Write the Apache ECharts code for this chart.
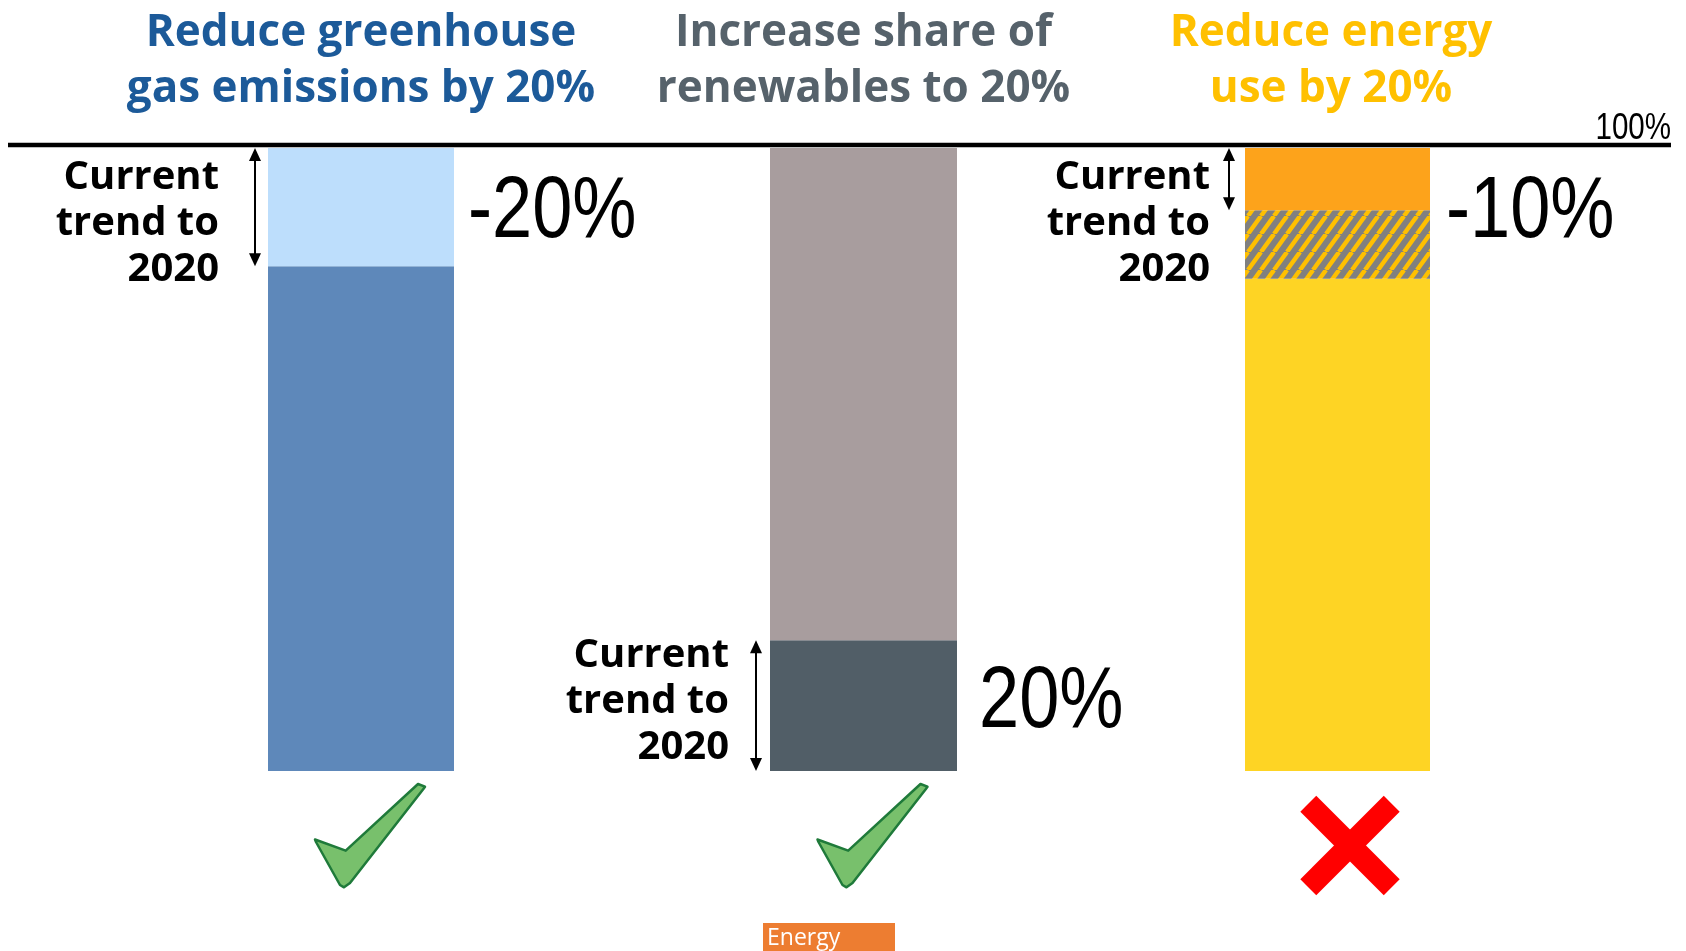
<!DOCTYPE html>
<html><head><meta charset="utf-8">
<script src="https://cdn.jsdelivr.net/npm/echarts@6/dist/echarts.min.js"></script>
<style>html,body{margin:0;padding:0;background:#fff}#chart{width:1686px;height:951px}</style>
</head><body><div id="chart"></div>
<script>
// ---------- data ----------
const goals = ['Reduce greenhouse\ngas emissions by 20%', 'Increase share of\nrenewables to 20%', 'Reduce energy\nuse by 20%'];
const ghgSegments = [81, 19];          // achieved, remaining to 100%
const renewablesSegments = [21, 79];   // current trend share, rest
const energySegments = [79, 11, 10];   // base, shortfall (hatched), achieved reduction
const markedSegment = [1, 0, 2];       // segment that carries the change label / arrow
const changeLabels = ['-20%', '20%', '-10%'];
const trendLabel = 'Current\ntrend to\n2020';
const scaleTopLabel = '100%';
const scaleTopValue = 100;
const outcomes = ['check', 'check', 'cross'];
const footerLabel = 'Energy';

// ---------- layout / style ----------
const gridLeft = [268, 770, 1245];
const gridWidth = [186, 187, 185];
const gridTop = 148, gridBottom = 180;
const titleColors = ['#1C5A99', '#56626B', '#FFC000'];
const titlePad = [[0,0,0,0],[0,0,0,0],[0,13,0,0]];
const labelGap = [14, 22, 16];
const labelDy = [6, -3, 34];
const arrowGap = [13, 14, 16];
const textGap = [49, 41, 35];
const textDy = [7, -8, 7];
const NARROW_SCALE = 0.82;
const SANS = '"Liberation Sans", Arial, sans-serif';
const HUMAN = '"Open Sans", "Noto Sans", sans-serif';

function makeHatch() {
  const w = 13, h = 18;
  const c = document.createElement('canvas');
  c.width = w; c.height = h;
  const g = c.getContext('2d');
  g.fillStyle = '#808080'; g.fillRect(0, 0, w, h);
  g.strokeStyle = '#FFC000'; g.lineWidth = 4.4;
  for (const dx of [-w, 0, w]) { g.beginPath(); g.moveTo(dx, h); g.lineTo(dx + w, 0); g.stroke(); }
  return c;
}
const hatch = { image: makeHatch(), repeat: 'repeat' };
const segColors = [['#5E88BA', '#BDDEFC'], ['#515E67', '#A89D9E'], ['#FED424', hatch, '#FDA31B']];
const allSegments = [ghgSegments, renewablesSegments, energySegments];

const chart = echarts.init(document.getElementById('chart'));
const grid = gridLeft.map((l, i) => ({ left: l, width: gridWidth[i], top: gridTop, bottom: gridBottom }));
const xAxis = goals.map((g, i) => ({
  gridIndex: i, type: 'category', data: [g], position: 'top',
  axisLine: { show: false }, axisTick: { show: false }, splitLine: { show: false },
  axisLabel: { interval: 0, color: titleColors[i], fontSize: 44, fontWeight: 'bold', fontFamily: HUMAN,
               lineHeight: 56, margin: 31, padding: titlePad[i] }
}));
const yAxis = goals.map((g, i) => ({ gridIndex: i, type: 'value', min: 0, max: scaleTopValue, show: false }));
const series = [];
allSegments.forEach((segs, i) => {
  segs.forEach((v, j) => {
    series.push({
      type: 'bar', xAxisIndex: i, yAxisIndex: i, stack: 'goal' + i, data: [v], barWidth: '100%',
      itemStyle: { color: segColors[i][j] }, emphasis: { disabled: true }, silent: true
    });
  });
});

chart.setOption({ animation: false, grid, xAxis, yAxis, series });

function py(i, v) { return chart.convertToPixel({ gridIndex: i }, [0, v])[1]; }
function px(i) { return chart.convertToPixel({ gridIndex: i }, [0, 0])[0]; }

const graphic = [];
const topY = py(0, scaleTopValue) - 3;
graphic.push({ type: 'line', shape: { x1: 8, y1: topY, x2: 1671, y2: topY }, style: { stroke: '#000', lineWidth: 4.5 } });
graphic.push({ type: 'text', x: 1671, y: topY - 16, scaleX: NARROW_SCALE,
  style: { text: scaleTopLabel, x: 0, y: 0, align: 'right', verticalAlign: 'middle', fontSize: 36, fontFamily: SANS, fill: '#000' } });

allSegments.forEach((segs, i) => {
  const k = markedSegment[i];
  const lo = segs.slice(0, k).reduce((a, b) => a + b, 0);
  const hi = lo + segs[k];
  const yTop = py(i, hi), yBot = py(i, lo), yMid = py(i, (lo + hi) / 2);
  const barLeft = px(i) - gridWidth[i] / 2;
  const barRight = barLeft + gridWidth[i];
  // change label
  graphic.push({ type: 'text', x: barRight + labelGap[i], y: yMid + labelDy[i], scaleX: NARROW_SCALE,
    style: { text: changeLabels[i], x: 0, y: 0, align: 'left', verticalAlign: 'middle', fontSize: 88, fontFamily: SANS, fill: '#000' } });
  // double arrow
  const ax = barLeft - arrowGap[i];
  graphic.push({ type: 'line', shape: { x1: ax, y1: yTop + 8, x2: ax, y2: yBot - 8 }, style: { stroke: '#000', lineWidth: 2 } });
  graphic.push({ type: 'polygon', shape: { points: [[ax, yTop], [ax - 6, yTop + 13], [ax + 6, yTop + 13]] }, style: { fill: '#000' } });
  graphic.push({ type: 'polygon', shape: { points: [[ax, yBot], [ax - 6, yBot - 13], [ax + 6, yBot - 13]] }, style: { fill: '#000' } });
  graphic.push({ type: 'text', style: { text: trendLabel, x: barLeft - textGap[i], y: yTop + textDy[i],
    align: 'right', verticalAlign: 'top', fontSize: 40, fontWeight: 'bold', fontFamily: HUMAN, lineHeight: 46, fill: '#000' } });

  const cx = px(i), by = py(i, 0);
  if (outcomes[i] === 'check') {
    const rel = [[-46, 68.5], [-15.3, 79.7], [57, 13], [64, 15.7], [62, 18.5], [-11, 112], [-17, 116.3], [-21, 114], [-45, 71]];
    graphic.push({ type: 'polygon', shape: { points: rel.map(p => [cx + p[0], by + p[1]]) },
      style: { fill: '#78C06C', stroke: '#1F7A3A', lineWidth: 2.5, lineJoin: 'round' } });
  } else {
    const xc = cx + 12.5, yc = by + 74.5;
    [Math.PI / 4, -Math.PI / 4].forEach(r => graphic.push({ type: 'rect', x: xc, y: yc, rotation: r,
      shape: { x: -59, y: -11.3, width: 118, height: 22.6 }, style: { fill: '#FF0000' } }));
  }
});

graphic.push({ type: 'rect', shape: { x: 763, y: 923, width: 132, height: 28 }, style: { fill: '#ED7D31' } });
graphic.push({ type: 'text', style: { text: footerLabel, x: 767, y: 938, verticalAlign: 'middle',
  fontSize: 23, fontFamily: HUMAN, fill: '#fff' } });

chart.setOption({ graphic });
</script>
</body></html>
